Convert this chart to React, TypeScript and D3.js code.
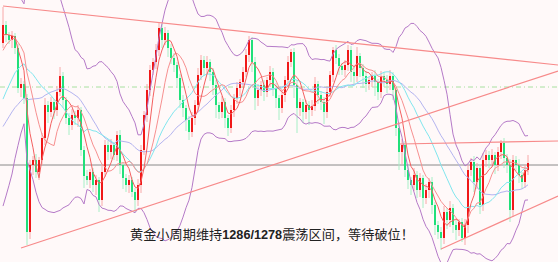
import React from "react";
import * as d3 from "d3";

const W = 558;
const H = 262;

// closes before the first visible bar (only feed the indicators)
const priorCloses = [
  1273, 1274, 1272.4, 1273.6, 1274.4, 1273, 1272, 1273.4, 1274.8, 1274,
  1275.6, 1274.4, 1276, 1277, 1275.6, 1278, 1280, 1282, 1284.4, 1287,
  1290, 1292.4, 1295, 1297.6, 1299, 1300.4, 1302, 1302.8, 1303.6, 1301.4,
];

const closes = [
  1305, 1303, 1302, 1302.8, 1300.4, 1292.4, 1293.2, 1290.4, 1263.6, 1277,
  1278, 1275.6, 1278, 1282.4, 1289, 1287.6, 1289.6, 1288, 1291.6, 1294.8,
  1290, 1286.4, 1285, 1287, 1286.4, 1288, 1280, 1274.8, 1274, 1275.6,
  1273, 1274, 1270, 1275.6, 1281, 1279.6, 1281, 1279, 1283, 1277,
  1274.4, 1273, 1274, 1271.6, 1270, 1273, 1280, 1287, 1292, 1296,
  1297.6, 1300, 1304.4, 1302, 1303.4, 1300.4, 1298.4, 1297, 1294.4, 1290,
  1288.4, 1286, 1283.6, 1286.4, 1289, 1295, 1298, 1296.4, 1297.6, 1295.6,
  1293, 1289, 1287.6, 1289.6, 1286.4, 1284.4, 1288, 1290.4, 1292.4, 1293.6,
  1295.6, 1299, 1302, 1297.6, 1290.4, 1292, 1293, 1291.6, 1294, 1295.6,
  1292.4, 1290.4, 1288.4, 1291, 1294, 1297.6, 1299.6, 1293, 1288.4, 1289.6,
  1287.6, 1289, 1288, 1288.8, 1293.2, 1291, 1289.6, 1287.6, 1291.6, 1295,
  1300, 1298.4, 1296.8, 1296, 1297, 1300, 1295.6, 1294.8, 1298.8, 1296.4,
  1294.8, 1293.2, 1294, 1294.8, 1293.6, 1291.6, 1294.8, 1294, 1293.2, 1294.8,
  1292, 1284.4, 1279.6, 1281, 1276, 1274, 1273, 1275, 1272, 1274.4,
  1270.4, 1272, 1273.6, 1269, 1265, 1263.6, 1262.4, 1267.6, 1266, 1268.4,
  1265, 1264, 1265.6, 1262.4, 1265, 1276, 1277.6, 1273.6, 1276.4, 1269,
  1278, 1279, 1278, 1279, 1277, 1279.6, 1281.4, 1278.4, 1277, 1268,
  1278, 1277, 1275, 1273.6, 1276, 1277.4,
];

const upperWicks = [
  3.6, 0.8, 0.6, 1.0, 0.6, 0.8, 1.2, 0.6, 0.8, 1.0,
  0.8, 1.2, 0.6, 1.0, 1.4, 0.8, 1.0, 0.6, 1.2, 1.8,
  0.8, 0.6, 1.0, 1.2, 0.8, 1.0, 0.6, 0.8, 1.2, 0.6,
  0.8, 1.0, 0.6, 1.4, 1.0, 0.8, 1.2, 0.6, 0.8, 1.0,
  0.6, 0.8, 1.0, 0.6, 0.8, 1.2, 1.0, 0.8, 1.2, 1.0,
  0.8, 1.2, 1.0, 0.8, 1.2, 0.6, 0.8, 1.0, 0.6, 0.8,
  1.0, 0.6, 0.8, 1.2, 1.0, 1.4, 1.0, 0.8, 1.2, 0.6,
  0.8, 1.0, 0.6, 1.2, 0.8, 0.6, 1.0, 0.8, 1.2, 0.6,
  1.0, 1.2, 0.8, 0.6, 1.0, 1.2, 0.8, 1.0, 0.6, 1.2,
  0.8, 1.0, 0.6, 1.0, 0.8, 1.2, 0.6, 0.8, 1.0, 0.8,
  0.6, 1.0, 0.8, 1.2, 1.4, 0.6, 0.8, 1.0, 1.2, 0.8,
  0.6, 1.0, 0.8, 0.6, 1.0, 1.0, 0.8, 1.2, 1.8, 0.6,
  0.8, 1.0, 0.6, 0.8, 1.2, 0.6, 1.0, 0.8, 1.0, 1.2,
  0.8, 0.6, 1.0, 1.2, 0.8, 1.0, 0.6, 1.4, 0.8, 1.0,
  0.6, 1.2, 0.8, 1.0, 0.6, 0.8, 1.0, 1.2, 0.8, 1.4,
  0.8, 1.0, 0.6, 0.8, 1.2, 1.0, 0.8, 1.2, 1.0, 0.8,
  1.4, 1.0, 0.8, 1.2, 0.6, 1.0, 0.6, 1.0, 0.8, 1.2,
  1.0, 0.8, 1.2, 0.6, 1.0, 1.6,
];

const lowerWicks = [
  1.0, 1.4, 0.8, 1.6, 1.2, 1.0, 1.8, 1.2, 2.6, 1.4,
  2.0, 1.2, 1.6, 1.0, 1.4, 2.2, 1.0, 1.8, 1.2, 0.8,
  1.6, 1.2, 2.0, 1.0, 1.4, 1.8, 1.2, 2.4, 1.0, 1.6,
  1.4, 2.0, 2.4, 1.2, 1.0, 1.6, 1.4, 1.0, 1.2, 1.8,
  2.2, 1.4, 1.6, 1.0, 2.4, 1.2, 1.6, 1.0, 1.4, 1.2,
  1.0, 1.4, 1.2, 1.6, 1.0, 1.8, 1.2, 1.4, 2.0, 1.6,
  1.8, 2.2, 1.6, 1.0, 1.4, 1.2, 1.0, 1.6, 1.2, 1.8,
  2.0, 2.6, 1.4, 1.2, 2.0, 1.6, 1.0, 1.4, 1.2, 1.6,
  1.2, 1.0, 1.4, 2.0, 2.4, 1.6, 1.2, 1.8, 1.0, 1.4,
  1.6, 2.0, 2.4, 1.0, 1.4, 1.2, 1.0, 2.6, 5.0, 1.6,
  2.2, 1.4, 3.0, 1.2, 1.0, 1.8, 1.6, 2.4, 1.2, 1.0,
  1.4, 1.2, 1.8, 1.0, 1.4, 1.2, 2.0, 1.6, 1.2, 1.8,
  2.4, 1.6, 1.2, 1.4, 2.8, 1.6, 1.2, 1.4, 1.8, 1.2,
  2.0, 1.6, 3.6, 2.4, 1.4, 1.8, 2.0, 1.2, 1.6, 1.4,
  2.0, 1.2, 1.6, 1.8, 2.0, 1.4, 2.4, 1.2, 1.8, 1.4,
  1.6, 2.0, 1.2, 0.8, 1.4, 1.6, 1.2, 2.0, 1.4, 1.8,
  1.2, 1.4, 1.6, 1.0, 1.8, 1.2, 1.4, 2.0, 1.6, 2.4,
  1.4, 1.2, 1.6, 1.4, 1.2, 1.0,
];

// support / resistance lines: [barIndex, price] endpoints
const trendLines = [
  [[0, 1308.8], [185, 1297]],
  [[6, 1260.4], [185, 1295.8]],
  [[132.3, 1281.2], [185, 1281.8]],
  [[146, 1260.2], [185, 1270.8]],
];
const pivotLevel = 1277;
const dashLevel = 1292.6;

const caption = ["黄金小周期维持", "1286/1278", "震荡区间，等待破位！"];

export default function App() {
  const x = d3.scaleLinear().domain([0, 185]).range([3, 558]);
  const y = d3.scaleLinear().domain([1257.6, 1310]).range([262, 0]);

  const all = priorCloses.concat(closes);
  const off = priorCloses.length;
  const windowAt = (i: number, n: number) => {
    const k = i + off;
    return all.slice(Math.max(0, k - n + 1), k + 1);
  };
  const ma = (n: number) => closes.map((_, i) => d3.mean(windowAt(i, n)) as number);
  const sd = (n: number) =>
    closes.map((_, i) => {
      const s = windowAt(i, n);
      const m = d3.mean(s) as number;
      return Math.sqrt(d3.mean(s, (v) => (v - m) * (v - m)) as number);
    });

  const ma5 = ma(5);
  const ma10 = ma(10);
  const ma20 = ma(20);
  const ma30 = ma(30);
  const sd20 = sd(20);
  const bbUp = ma20.map((m, i) => m + 2 * sd20[i]);
  const bbLo = ma20.map((m, i) => m - 2 * sd20[i]);

  const line = d3
    .line<number>()
    .x((_, i) => x(i))
    .y((v) => y(v));

  const candles = closes.map((c, i) => {
    const o = i === 0 ? priorCloses[priorCloses.length - 1] : closes[i - 1];
    const hi = Math.max(o, c) + upperWicks[i];
    const lo = Math.min(o, c) - lowerWicks[i];
    return { i, o, c, hi, lo, up: c >= o };
  });

  return (
    <svg
      width={W}
      height={H}
      style={{ position: "absolute", left: 0, top: 0 }}
      xmlns="http://www.w3.org/2000/svg"
    >
      <rect x={0} y={0} width={W} height={H} fill="#fff9f9" />
      <line x1={0} x2={W} y1={y(pivotLevel)} y2={y(pivotLevel)} stroke="#8a8a8a" strokeWidth={1} />
      <line
        x1={0}
        x2={W}
        y1={y(dashLevel)}
        y2={y(dashLevel)}
        stroke="#a8e0a0"
        strokeWidth={1}
        strokeDasharray="5,3,1,3"
      />
      {candles.map((d) => (
        <g key={d.i}>
          <line
            x1={x(d.i)}
            x2={x(d.i)}
            y1={y(d.hi)}
            y2={y(d.lo)}
            stroke={d.up ? "#f8a8a8" : "#a6efc6"}
            strokeWidth={1}
          />
          <rect
            x={x(d.i) - 1}
            width={2}
            y={y(Math.max(d.o, d.c))}
            height={Math.max(1, Math.abs(y(d.o) - y(d.c)))}
            fill={d.up ? "#f01818" : "#20e07a"}
          />
        </g>
      ))}
      <path d={line(ma30) || ""} fill="none" stroke="#b4b4f0" strokeWidth={1} />
      <path d={line(ma20) || ""} fill="none" stroke="#80e6ee" strokeWidth={1} />
      <path d={line(ma10) || ""} fill="none" stroke="#f79090" strokeWidth={1} />
      <path d={line(ma5) || ""} fill="none" stroke="#f46060" strokeWidth={1} />
      <path d={line(bbUp) || ""} fill="none" stroke="#b57ac8" strokeWidth={1} />
      <path d={line(bbLo) || ""} fill="none" stroke="#b57ac8" strokeWidth={1} />
      {trendLines.map((t, k) => (
        <line
          key={k}
          x1={x(t[0][0])}
          y1={y(t[0][1])}
          x2={x(t[1][0])}
          y2={y(t[1][1])}
          stroke="#f78a8a"
          strokeWidth={1.2}
        />
      ))}
      <text
        x={130}
        y={239}
        fontSize={13}
        fill="#222"
        fontFamily="'Noto Sans CJK SC', sans-serif"
        textLength={284}
        lengthAdjust="spacingAndGlyphs"
      >
        <tspan>{caption[0]}</tspan>
        <tspan fontFamily="'Liberation Sans', sans-serif" fontWeight="bold" fontSize={12.5}>
          {caption[1]}
        </tspan>
        <tspan>{caption[2]}</tspan>
      </text>
    </svg>
  );
}
